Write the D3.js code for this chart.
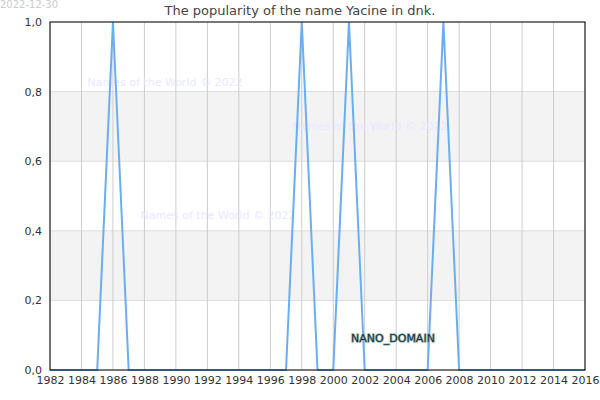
<!DOCTYPE html><html><head><meta charset="utf-8"><script src="https://cdn.jsdelivr.net/npm/d3@7"></script>
<style>body{margin:0}svg{font-family:"DejaVu Sans",sans-serif}</style></head><body><svg width="600" height="400"></svg><script>
const years=d3.range(1982,2017);
const peakYears=[1986,1998,2001,2007];
const values=years.map(y=>peakYears.includes(y)?1:0);
const xTicks=d3.range(1982,2017,2);
const yTicks=[0,0.2,0.4,0.6,0.8,1.0];
const title="The popularity of the name Yacine in dnk.";
const svg=d3.select("svg");
const m={l:50,r:585,t:22,b:370};
const x=d3.scaleLinear().domain([1982,2016]).range([m.l,m.r]);
const y=d3.scaleLinear().domain([0,1]).range([m.b,m.t]);
[[0.2,0.4],[0.6,0.8]].forEach(b=>svg.append("rect").attr("x",m.l).attr("width",m.r-m.l).attr("y",y(b[1])).attr("height",y(b[0])-y(b[1])).attr("fill","#f3f3f3"));
yTicks.forEach(t=>svg.append("line").attr("x1",m.l).attr("x2",m.r).attr("y1",y(t)).attr("y2",y(t)).attr("stroke","#ddd"));
xTicks.forEach(t=>svg.append("line").attr("x1",x(t)).attr("x2",x(t)).attr("y1",m.t).attr("y2",m.b).attr("stroke","#ccc"));
const wm=[[165,86],[370,130],[218,219]];
wm.forEach(p=>svg.append("text").attr("x",p[0]).attr("y",p[1]).attr("text-anchor","middle").attr("font-size",11).attr("fill","#e8e8ff").text("Names of the World © 2022"));
svg.append("path").datum(values).attr("fill","none").attr("stroke","#6aaef0").attr("stroke-width",2)
 .attr("d",d3.line().x((d,i)=>x(years[i])).y(d=>y(d)));
svg.append("text").attr("x",393).attr("y",342).attr("text-anchor","middle").attr("font-size",11).attr("fill","#1a3030").attr("stroke","#9bb").attr("stroke-width",1.5).attr("paint-order","stroke").text("NANO_DOMAIN");
svg.append("rect").attr("x",m.l).attr("y",m.t).attr("width",m.r-m.l).attr("height",m.b-m.t).attr("fill","none").attr("stroke","#000");
const xa=svg.append("g").attr("transform",`translate(0,${m.b})`).call(d3.axisBottom(x).tickValues(xTicks).tickFormat(d3.format("d")).tickSize(0).tickPadding(6));
const ya=svg.append("g").attr("transform",`translate(${m.l},0)`).call(d3.axisLeft(y).tickValues(yTicks).tickFormat(d=>d3.format(".1f")(d).replace(".",",")).tickSize(0).tickPadding(8));
[xa,ya].forEach(a=>{a.select(".domain").remove();a.selectAll("text").attr("font-size",11).attr("fill","#333").attr("font-family","DejaVu Sans")});
svg.append("text").attr("x",300).attr("y",15).attr("text-anchor","middle").attr("font-size",13).attr("fill","#444").text(title);
svg.append("text").attr("x",0).attr("y",8).attr("font-size",10).attr("fill","#ccc").text("2022-12-30");
</script></body></html>
